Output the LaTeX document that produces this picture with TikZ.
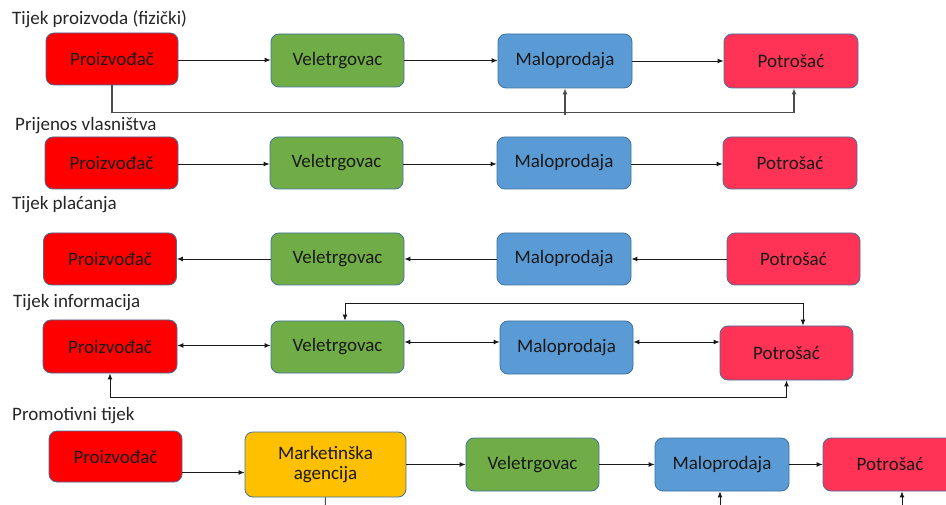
\documentclass[tikz,border=0pt]{standalone}
\usepackage{fontspec}
\setmainfont{Carlito}
\usetikzlibrary{arrows.meta}
\definecolor{cRed}{HTML}{FF0000}
\definecolor{cGreen}{HTML}{70AD47}
\definecolor{cBlue}{HTML}{5B9BD5}
\definecolor{cPink}{HTML}{FF3355}
\definecolor{cGold}{HTML}{FFC000}
\definecolor{cEdge}{HTML}{41719C}
\definecolor{cLine}{HTML}{1A1A1A}
\tikzset{
  box/.style={draw=cEdge, line width=0.8pt, rounded corners=8pt, minimum width=133pt, minimum height=52pt, inner sep=2pt, align=center, font=\fontsize{19}{21.5}\selectfont, text=black!90},
  pbox/.style={box, fill=cRed},
  vbox/.style={box, fill=cGreen},
  mbox/.style={box, fill=cBlue},
  cbox/.style={box, fill=cPink},
  abox/.style={box, fill=cGold},
  ttl/.style={anchor=base west, inner sep=0pt, font=\fontsize{19}{21.5}\selectfont, text=black!85},
  arr/.style={draw=cLine, line width=0.9pt, -{Latex[length=6pt,width=5pt]}},
  darr/.style={draw=cLine, line width=0.9pt, {Latex[length=6pt,width=5pt]}-{Latex[length=6pt,width=5pt]}},
  loop/.style={draw=black!70, line width=1.3pt}
}
\begin{document}
\begin{tikzpicture}[x=1pt,y=-1pt]
\useasboundingbox (0,0) rectangle (946,505);
\clip (0,0) rectangle (946,505);
% Row 1
\node[ttl] (t1) at (12,25) {Tijek proizvoda (fizički)};
\node[pbox, minimum width=132pt] (P1) at (112,59) {Proizvođač};
\node[vbox, minimum height=53pt] (V1) at (337.5,60.5) {Veletrgovac};
\node[mbox, minimum width=134pt, minimum height=54pt] (M1) at (565,61) {Maloprodaja};
\node[cbox, minimum width=134pt, minimum height=54pt] (C1) at (791,61) {Potrošać};
\draw[arr] ([yshift=-1pt]P1.east) -- ([yshift=-1pt]P1.east -| V1.west);
\draw[arr] (V1.east) -- (V1.east -| M1.west);
\draw[arr] (M1.east) -- (M1.east -| C1.west);
\coordinate (b1) at (565,115);
\draw[loop, -{Latex[length=6pt,width=5pt]}] (P1.south) -- ++(0,27) -| ([xshift=3pt]C1.south);
\draw[loop, -{Latex[length=6pt,width=5pt]}] (b1) -- (M1.south);
% Row 2
\node[ttl] (t2) at (15,131) {Prijenos vlasništva};
\node[pbox] (P2) at (111.5,163) {Proizvođač};
\node[vbox] (V2) at (336.5,163) {Veletrgovac};
\node[mbox, minimum width=134pt] (M2) at (564,163) {Maloprodaja};
\node[cbox, minimum width=134pt] (C2) at (790,163) {Potrošać};
\draw[arr] ([yshift=-1pt]P2.east) -- ([yshift=-1pt]P2.east -| V2.west);
\draw[arr] ([yshift=-1pt]V2.east) -- ([yshift=-1pt]V2.east -| M2.west);
\draw[arr] ([yshift=-1pt]M2.east) -- ([yshift=-1pt]M2.east -| C2.west);
% Row 3
\node[ttl] (t3) at (12,210) {Tijek plaćanja};
\node[pbox] (P3) at (110,259) {Proizvođač};
\node[vbox] (V3) at (337.5,259) {Veletrgovac};
\node[mbox, minimum width=134pt] (M3) at (564,259) {Maloprodaja};
\node[cbox] (C3) at (793.5,259) {Potrošać};
\draw[arr] (V3.west) -- (V3.west -| P3.east);
\draw[arr] (M3.west) -- (M3.west -| V3.east);
\draw[arr] (C3.west) -- (C3.west -| M3.east);
% Row 4
\node[ttl] (t4) at (13,308) {Tijek informacija};
\node[pbox, minimum width=134pt, minimum height=53pt] (P4) at (110,346.5) {Proizvođač};
\node[vbox] (V4) at (337.5,347) {Veletrgovac};
\node[mbox, minimum height=53pt] (M4) at (566.5,347.5) {Maloprodaja};
\node[cbox, minimum height=54pt] (C4) at (786.5,353) {Potrošać};
\draw[darr] ([yshift=1pt]P4.east) -- ([yshift=1pt]P4.east -| V4.west);
\draw[darr] ([yshift=5pt]V4.east) -- ([yshift=5pt]V4.east -| M4.west);
\draw[darr] ([yshift=5.5pt]M4.east) -- ([yshift=5.5pt]M4.east -| C4.west);
\draw[darr] ([xshift=7.5pt]V4.north) |- (345,303) -| ([xshift=16.5pt]C4.north);
\draw[darr] (C4.south) |- (110,397) -- (P4.south);
% Row 5
\node[ttl] (t5) at (12,420) {Promotivni tijek};
\node[pbox, minimum height=51pt] (P5) at (115.5,456.5) {Proizvođač};
\node[abox, minimum width=161pt, minimum height=65pt] (A5) at (325.5,464.5) {Marketinška\\[-2pt]agencija};
\node[vbox, minimum height=53pt] (V5) at (532.5,464.5) {Veletrgovac};
\node[mbox, minimum width=134pt, minimum height=53pt] (M5) at (722,464.5) {Maloprodaja};
\node[cbox, minimum width=134pt, minimum height=53pt] (C5) at (890,464.5) {Potrošać};
\draw[arr] ([yshift=-8pt]A5.west -| P5.east) -- ([yshift=-8pt]A5.west);
\draw[arr] (A5.east) -- (A5.east -| V5.west);
\draw[arr] (V5.east) -- (V5.east -| M5.west);
\draw[arr] (M5.east) -- (M5.east -| C5.west);
\coordinate (e1) at (325,512);
\coordinate (e2) at (720,512);
\coordinate (e3) at (902,512);
\draw[loop, line width=1pt] (A5.south) -- (e1);
\draw[arr] (e2) -- (M5.south -| e2);
\draw[arr] (e3) -- (C5.south -| e3);
\end{tikzpicture}
\end{document}
